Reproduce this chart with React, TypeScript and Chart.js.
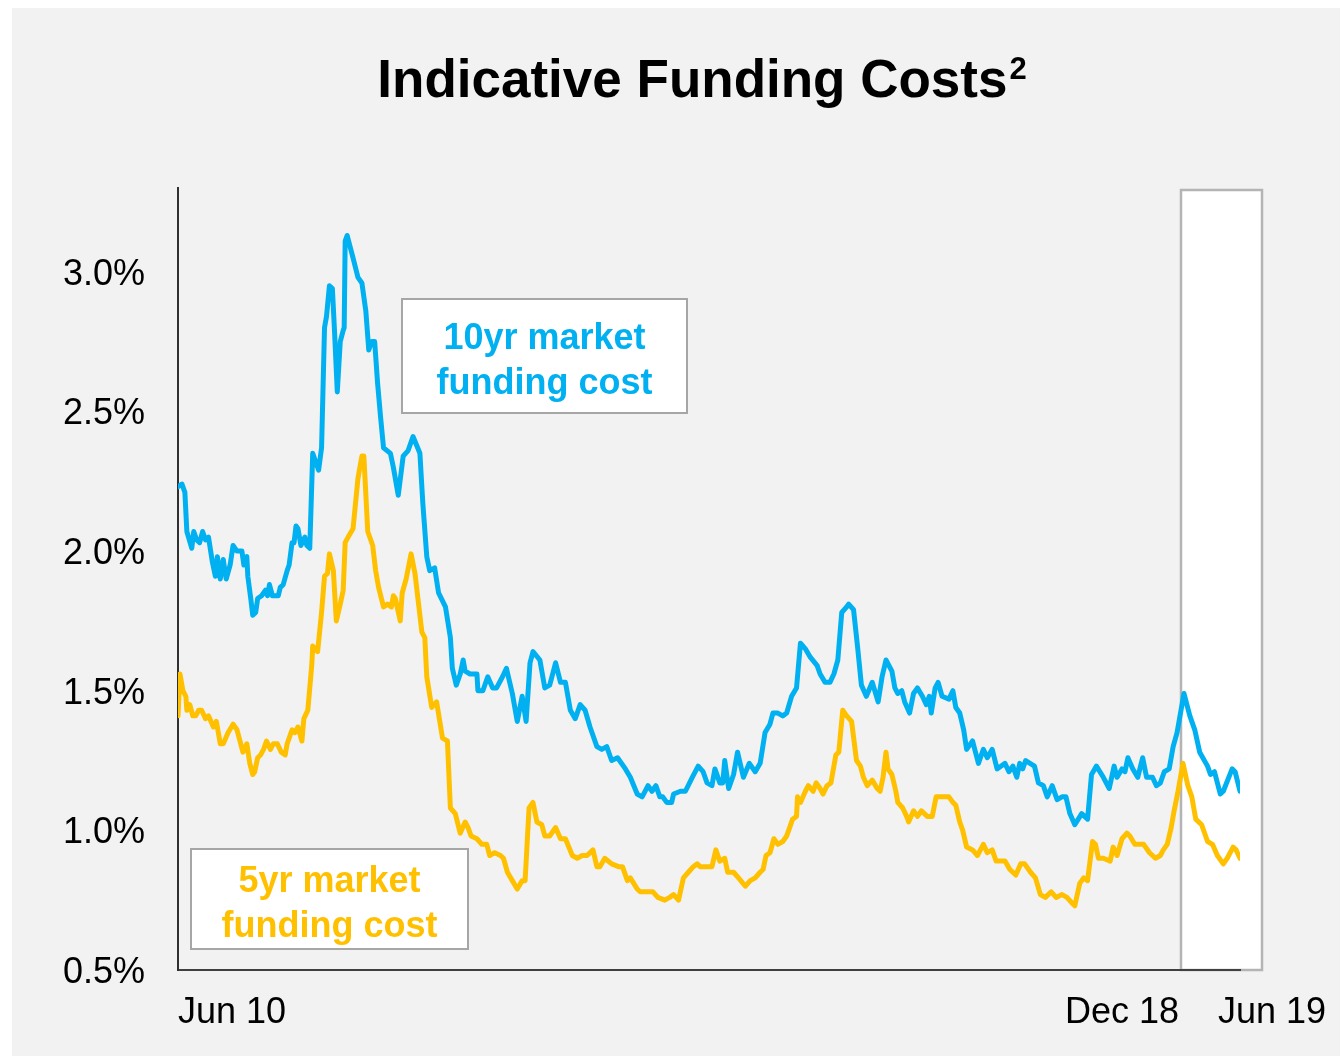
import React, { useEffect, useRef } from "react";
import { Chart, registerables } from "chart.js";

Chart.register(...registerables);

// ---- Data (months since Jun 2010, percent) ----
const tenYrMonths = [
  0.0, 0.4, 0.7, 0.9, 1.4, 1.6, 1.9, 2.2, 2.5, 2.8, 3.1, 3.5, 3.8, 4.0, 4.3, 4.6, 4.9, 5.3, 5.6, 6.0,
  6.5, 6.7, 7.0, 7.1, 7.4, 7.6, 7.9, 8.1, 8.5, 8.9, 9.1, 9.3, 9.6, 10.2, 10.4, 10.7, 11.1, 11.3, 11.6, 11.8,
  12.0, 12.2, 12.5, 12.9, 13.1, 13.4, 13.7, 14.1, 14.3, 14.6, 14.9, 15.1, 15.4, 15.7, 15.9, 16.2, 16.5, 16.8, 16.9, 17.0,
  17.2, 17.5, 17.8, 18.3, 18.7, 19.1, 19.4, 19.7, 20.0, 20.3, 20.6, 20.9, 21.6, 21.9, 22.4, 22.9, 23.4, 23.9, 24.6, 24.9,
  25.3, 25.6, 26.1, 26.5, 27.2, 27.7, 27.9, 28.3, 28.7, 29.0, 29.2, 29.7, 30.4, 30.5, 31.0, 31.5, 32.0, 32.4, 33.0, 33.4,
  34.0, 34.5, 35.0, 35.4, 35.8, 36.1, 36.8, 37.3, 37.8, 38.4, 38.9, 39.4, 39.9, 40.4, 40.9, 41.4, 41.9, 42.6, 43.1, 43.6,
  44.1, 44.7, 45.5, 46.0, 46.7, 47.2, 47.8, 48.2, 48.6, 49.0, 49.3, 49.7, 50.2, 50.4, 51.1, 51.6, 52.3, 52.9, 53.4, 53.8,
  54.3, 54.6, 55.1, 55.4, 55.6, 56.0, 56.5, 56.9, 57.5, 58.1, 58.7, 59.2, 59.7, 60.2, 60.5, 61.0, 61.5, 61.9, 62.4, 62.9,
  63.3, 63.8, 64.3, 65.0, 65.3, 65.8, 66.3, 66.7, 67.1, 67.5, 68.0, 68.2, 68.7, 69.1, 69.5, 70.0, 70.6, 71.2, 71.6, 72.0,
  72.6, 72.9, 73.2, 73.6, 73.9, 74.4, 74.8, 75.2, 75.7, 76.1, 76.4, 76.6, 77.0, 77.3, 77.7, 78.4, 78.8, 79.1, 79.5, 79.9,
  80.2, 80.8, 81.4, 81.9, 82.3, 82.8, 83.3, 84.1, 84.5, 84.9, 85.3, 85.6, 85.9, 86.2, 87.1, 87.5, 88.0, 88.4, 88.9, 89.4,
  89.9, 90.3, 90.7, 91.2, 91.9, 92.5, 92.9, 93.4, 94.1, 94.7, 95.2, 95.5, 96.0, 96.3, 96.6, 97.1, 97.6, 98.1, 98.5, 99.1,
  99.5, 99.9, 100.3, 100.8, 101.2, 101.6, 102.3, 102.9, 103.4, 103.9, 104.7, 105.0, 105.4, 106.0, 106.3, 107.2, 107.5, 108.0,
];
const tenYrRates = [
  2.23, 2.24, 2.21, 2.07, 2.01, 2.07, 2.04, 2.03, 2.07, 2.04, 2.05, 1.96, 1.91, 1.98, 1.90, 1.97, 1.90, 1.95, 2.02, 2.00,
  2.00, 1.95, 1.98, 1.91, 1.83, 1.77, 1.78, 1.83, 1.84, 1.86, 1.84, 1.88, 1.84, 1.84, 1.87, 1.88, 1.93, 1.95, 2.03, 2.03,
  2.09, 2.08, 2.02, 2.05, 2.02, 2.01, 2.35, 2.31, 2.29, 2.37, 2.80, 2.84, 2.95, 2.94, 2.80, 2.57, 2.75, 2.79, 2.80, 3.11,
  3.13, 3.09, 3.05, 2.98, 2.96, 2.86, 2.72, 2.75, 2.75, 2.60, 2.48, 2.37, 2.35, 2.30, 2.20, 2.34, 2.36, 2.41, 2.35, 2.17,
  1.98, 1.93, 1.94, 1.85, 1.80, 1.69, 1.58, 1.52, 1.56, 1.61, 1.57, 1.56, 1.56, 1.50, 1.50, 1.55, 1.51, 1.51, 1.55, 1.58,
  1.49, 1.39, 1.48, 1.39, 1.60, 1.64, 1.61, 1.51, 1.52, 1.60, 1.53, 1.53, 1.43, 1.40, 1.45, 1.43, 1.37, 1.30, 1.29, 1.30,
  1.25, 1.26, 1.22, 1.19, 1.13, 1.12, 1.16, 1.14, 1.16, 1.12, 1.12, 1.10, 1.10, 1.13, 1.14, 1.14, 1.19, 1.23, 1.21, 1.17,
  1.16, 1.22, 1.17, 1.17, 1.25, 1.15, 1.20, 1.28, 1.19, 1.24, 1.21, 1.24, 1.35, 1.38, 1.42, 1.42, 1.41, 1.42, 1.48, 1.51,
  1.67, 1.65, 1.62, 1.59, 1.56, 1.53, 1.53, 1.56, 1.61, 1.78, 1.80, 1.81, 1.79, 1.66, 1.52, 1.48, 1.53, 1.46, 1.55, 1.61,
  1.57, 1.51, 1.49, 1.50, 1.46, 1.42, 1.49, 1.51, 1.48, 1.45, 1.48, 1.42, 1.51, 1.53, 1.48, 1.47, 1.50, 1.44, 1.42, 1.36,
  1.29, 1.32, 1.24, 1.29, 1.26, 1.29, 1.22, 1.24, 1.21, 1.23, 1.19, 1.24, 1.22, 1.25, 1.23, 1.17, 1.16, 1.12, 1.16, 1.11,
  1.12, 1.12, 1.06, 1.02, 1.06, 1.04, 1.20, 1.23, 1.19, 1.15, 1.23, 1.19, 1.22, 1.21, 1.26, 1.22, 1.19, 1.26, 1.19, 1.19,
  1.16, 1.17, 1.21, 1.22, 1.30, 1.35, 1.49, 1.41, 1.36, 1.28, 1.23, 1.20, 1.21, 1.13, 1.14, 1.22, 1.21, 1.14,
];

const fiveYrMonths = [
  0.0, 0.2, 0.5, 0.8, 0.9, 1.2, 1.5, 1.8, 2.1, 2.4, 2.8, 3.1, 3.6, 3.9, 4.3, 4.6, 5.1, 5.6, 6.0, 6.3,
  6.6, 7.0, 7.3, 7.6, 7.8, 8.1, 8.4, 8.7, 9.0, 9.4, 9.7, 10.1, 10.5, 10.9, 11.1, 11.6, 11.9, 12.2, 12.6, 12.8,
  13.2, 13.6, 13.7, 14.2, 14.6, 14.9, 15.2, 15.4, 15.8, 16.1, 16.5, 16.8, 17.0, 17.3, 17.8, 18.3, 18.7, 18.9, 19.3, 19.8,
  20.1, 20.4, 20.9, 21.3, 21.7, 21.9, 22.1, 22.6, 22.8, 23.2, 23.7, 24.1, 24.5, 24.8, 25.1, 25.3, 25.8, 26.3, 26.9, 27.4,
  27.7, 28.2, 28.7, 29.2, 29.5, 29.8, 30.4, 30.9, 31.4, 31.7, 32.2, 32.8, 33.1, 33.5, 34.0, 34.5, 35.0, 35.3, 35.7, 36.1,
  36.5, 37.0, 37.3, 37.8, 38.4, 38.9, 39.4, 40.1, 40.6, 41.1, 41.6, 42.2, 42.6, 42.9, 43.4, 44.1, 44.8, 45.2, 45.7, 46.0,
  46.7, 47.0, 47.7, 48.3, 48.8, 49.5, 50.0, 50.4, 50.9, 51.4, 51.9, 52.4, 52.8, 53.1, 53.4, 54.3, 54.7, 55.1, 55.6, 55.9,
  56.5, 57.0, 57.7, 58.2, 58.7, 59.2, 59.5, 59.8, 60.2, 60.6, 61.0, 61.5, 61.9, 62.2, 62.5, 62.9, 63.0, 63.3, 63.8, 64.1,
  64.6, 64.9, 65.3, 65.6, 66.0, 66.4, 66.7, 66.9, 67.2, 67.6, 68.0, 68.5, 69.0, 69.4, 69.7, 70.1, 70.6, 71.1, 71.4, 71.7,
  72.0, 72.2, 72.6, 73.0, 73.2, 73.7, 74.1, 74.3, 74.8, 75.2, 75.6, 76.2, 76.7, 77.1, 77.5, 78.0, 78.4, 78.8, 79.1, 79.5,
  79.8, 80.2, 80.8, 81.3, 81.9, 82.3, 82.8, 83.2, 83.8, 84.1, 84.6, 85.2, 85.7, 86.1, 86.7, 87.2, 87.7, 88.2, 88.8, 89.3,
  89.9, 90.4, 90.9, 91.2, 91.7, 92.1, 92.5, 93.0, 93.3, 93.6, 94.1, 94.8, 95.1, 95.5, 96.0, 96.5, 96.8, 97.3, 97.8, 98.2,
  98.8, 99.4, 99.9, 100.2, 100.6, 101.0, 101.3, 101.7, 102.2, 102.7, 103.1, 103.5, 104.1, 104.7, 105.2, 105.7, 106.3, 106.7, 107.3, 107.6,
  108.0,
];
const fiveYrRates = [
  1.41, 1.56, 1.50, 1.48, 1.43, 1.45, 1.41, 1.41, 1.43, 1.43, 1.40, 1.41, 1.37, 1.39, 1.31, 1.31, 1.35, 1.38, 1.36, 1.32,
  1.28, 1.31, 1.24, 1.20, 1.21, 1.26, 1.27, 1.29, 1.32, 1.29, 1.31, 1.31, 1.28, 1.27, 1.31, 1.36, 1.35, 1.37, 1.32, 1.40,
  1.43, 1.59, 1.66, 1.64, 1.78, 1.91, 1.92, 1.99, 1.93, 1.75, 1.81, 1.86, 2.03, 2.05, 2.08, 2.26, 2.34, 2.34, 2.07, 2.02,
  1.93, 1.87, 1.80, 1.81, 1.80, 1.84, 1.83, 1.75, 1.85, 1.90, 1.99, 1.92, 1.80, 1.71, 1.69, 1.55, 1.44, 1.46, 1.33, 1.32,
  1.08, 1.06, 0.99, 1.03, 1.01, 0.98, 0.97, 0.95, 0.95, 0.91, 0.92, 0.91, 0.90, 0.85, 0.82, 0.79, 0.82, 0.82, 1.08, 1.10,
  1.03, 1.02, 0.98, 0.98, 1.01, 0.97, 0.97, 0.91, 0.90, 0.91, 0.91, 0.93, 0.87, 0.87, 0.90, 0.88, 0.87, 0.87, 0.82, 0.83,
  0.79, 0.78, 0.78, 0.78, 0.76, 0.75, 0.76, 0.77, 0.75, 0.83, 0.85, 0.87, 0.88, 0.87, 0.87, 0.87, 0.93, 0.89, 0.90, 0.85,
  0.85, 0.83, 0.80, 0.82, 0.83, 0.85, 0.86, 0.91, 0.92, 0.97, 0.95, 0.96, 0.98, 1.01, 1.04, 1.05, 1.12, 1.10, 1.14, 1.16,
  1.14, 1.17, 1.15, 1.13, 1.16, 1.17, 1.23, 1.27, 1.28, 1.43, 1.41, 1.39, 1.25, 1.23, 1.19, 1.16, 1.18, 1.15, 1.14, 1.19,
  1.28, 1.22, 1.20, 1.14, 1.10, 1.08, 1.05, 1.03, 1.07, 1.05, 1.07, 1.05, 1.05, 1.12, 1.12, 1.12, 1.12, 1.10, 1.09, 1.03,
  1.00, 0.94, 0.93, 0.91, 0.95, 0.92, 0.93, 0.89, 0.89, 0.89, 0.86, 0.84, 0.88, 0.88, 0.85, 0.83, 0.77, 0.76, 0.78, 0.76,
  0.77, 0.76, 0.74, 0.73, 0.81, 0.83, 0.82, 0.96, 0.95, 0.90, 0.90, 0.89, 0.94, 0.91, 0.97, 0.99, 0.98, 0.95, 0.95, 0.95,
  0.92, 0.90, 0.91, 0.93, 0.95, 1.01, 1.07, 1.14, 1.24, 1.16, 1.12, 1.04, 1.02, 0.96, 0.95, 0.91, 0.88, 0.90, 0.94, 0.93,
  0.90,
];

const yTickValues = [0.5, 1.0, 1.5, 2.0, 2.5, 3.0];
const xTickMonths = [0, 102, 108];
const xTickLabels = ["Jun 10", "Dec 18", "Jun 19"];
const highlightStartMonth = 102;
const titleText = "Indicative Funding Costs";
const titleSup = "2";
const tenYrLabel = ["10yr market", "funding cost"];
const fiveYrLabel = ["5yr market", "funding cost"];

const BLUE = "#00b0f0";
const YELLOW = "#ffc000";
const FONT = '"Liberation Sans", Arial, sans-serif';

const decorPlugin = {
  id: "decor",
  beforeDraw(chart: any) {
    const { ctx, chartArea, scales } = chart;
    const xs = scales.x;
    ctx.save();
    // highlight box
    const x0 = xs.getPixelForValue(highlightStartMonth);
    const x1 = chartArea.right + 22;
    const top = chartArea.top + 2;
    ctx.fillStyle = "#ffffff";
    ctx.fillRect(x0, top, x1 - x0, chartArea.bottom - top);
    ctx.strokeStyle = "#b4b4b4";
    ctx.lineWidth = 2.5;
    ctx.strokeRect(x0, top, x1 - x0, chartArea.bottom - top);

    // title
    ctx.fillStyle = "#000000";
    ctx.font = `bold 53px ${FONT}`;
    const w1 = ctx.measureText(titleText).width;
    ctx.font = `bold 31px ${FONT}`;
    const w2 = ctx.measureText(titleSup).width;
    const cx = 690;
    const start = cx - (w1 + w2 + 2) / 2;
    ctx.textAlign = "left";
    ctx.textBaseline = "alphabetic";
    ctx.font = `bold 53px ${FONT}`;
    ctx.fillText(titleText, start, 89);
    ctx.font = `bold 31px ${FONT}`;
    ctx.fillText(titleSup, start + w1 + 2, 71);
    ctx.restore();
  },
  afterDraw(chart: any) {
    const { ctx, chartArea, scales } = chart;
    const xs = scales.x;
    ctx.save();
    // x labels
    ctx.fillStyle = "#000000";
    ctx.font = `36px ${FONT}`;
    ctx.textBaseline = "alphabetic";
    const baseY = chartArea.bottom + 53;
    xTickMonths.forEach((m, i) => {
      const px = xs.getPixelForValue(m);
      if (i === 0) {
        ctx.textAlign = "left";
        ctx.fillText(xTickLabels[i], px, baseY);
      } else if (i === 1) {
        ctx.textAlign = "right";
        ctx.fillText(xTickLabels[i], px - 2, baseY);
      } else {
        ctx.textAlign = "left";
        ctx.fillText(xTickLabels[i], px - 22, baseY);
      }
    });

    // label boxes
    const drawBox = (bx: number, by: number, bw: number, bh: number, lines: string[], color: string) => {
      ctx.fillStyle = "#ffffff";
      ctx.fillRect(bx, by, bw, bh);
      ctx.strokeStyle = "#a6a6a6";
      ctx.lineWidth = 2;
      ctx.strokeRect(bx, by, bw, bh);
      ctx.fillStyle = color;
      ctx.font = `bold 36px ${FONT}`;
      ctx.textAlign = "center";
      ctx.textBaseline = "alphabetic";
      const cxm = bx + bw / 2;
      const cym = by + bh / 2;
      ctx.fillText(lines[0], cxm, cym - 7);
      ctx.fillText(lines[1], cxm, cym + 38);
    };
    drawBox(chartArea.left + 224, chartArea.top + 111, 285, 114, tenYrLabel, BLUE);
    drawBox(chartArea.left + 13, chartArea.top + 661, 277, 100, fiveYrLabel, YELLOW);
    ctx.restore();
  },
};

export default function App() {
  const canvasRef = useRef<HTMLCanvasElement | null>(null);

  useEffect(() => {
    const canvas = canvasRef.current;
    if (!canvas) return;
    const chart = new Chart(canvas, {
      type: "line",
      data: {
        datasets: [
          {
            label: "5yr market funding cost",
            data: fiveYrMonths.map((m, i) => ({ x: m, y: fiveYrRates[i] })),
            borderColor: YELLOW,
            borderWidth: 5,
            pointRadius: 0,
            tension: 0,
            borderJoinStyle: "round",
            borderCapStyle: "round",
          },
          {
            label: "10yr market funding cost",
            data: tenYrMonths.map((m, i) => ({ x: m, y: tenYrRates[i] })),
            borderColor: BLUE,
            borderWidth: 5,
            pointRadius: 0,
            tension: 0,
            borderJoinStyle: "round",
            borderCapStyle: "round",
          },
        ],
      },
      options: {
        responsive: false,
        animation: false,
        devicePixelRatio: 1,
        layout: { padding: { top: 180, right: 100, left: 0, bottom: 0 } },
        plugins: {
          legend: { display: false },
          tooltip: { enabled: false },
          title: { display: false },
        },
        scales: {
          x: {
            type: "linear",
            min: 0,
            max: 108,
            grid: { display: false, drawTicks: false },
            border: { display: true, color: "#404040", width: 2 },
            ticks: { display: false },
            afterFit: (s: any) => {
              s.height = 86;
            },
          },
          y: {
            type: "linear",
            min: 0.5,
            max: 3.3,
            grid: { display: false, drawTicks: false },
            border: { display: true, color: "#303030", width: 2 },
            afterBuildTicks: (s: any) => {
              s.ticks = yTickValues.map((v) => ({ value: v }));
            },
            ticks: {
              color: "#000000",
              padding: 33,
              labelOffset: 3,
              font: { family: FONT, size: 36 },
              callback: (v: any) => Number(v).toFixed(1) + "%",
            },
            afterFit: (s: any) => {
              s.width = 166;
            },
          },
        },
      },
      plugins: [decorPlugin],
    });
    return () => chart.destroy();
  }, []);

  return (
    <div
      style={{
        position: "absolute",
        left: 12,
        top: 8,
        width: 1328,
        height: 1048,
        background: "#f2f2f2",
      }}
    >
      <canvas ref={canvasRef} width={1328} height={1048} style={{ display: "block" }} />
    </div>
  );
}
